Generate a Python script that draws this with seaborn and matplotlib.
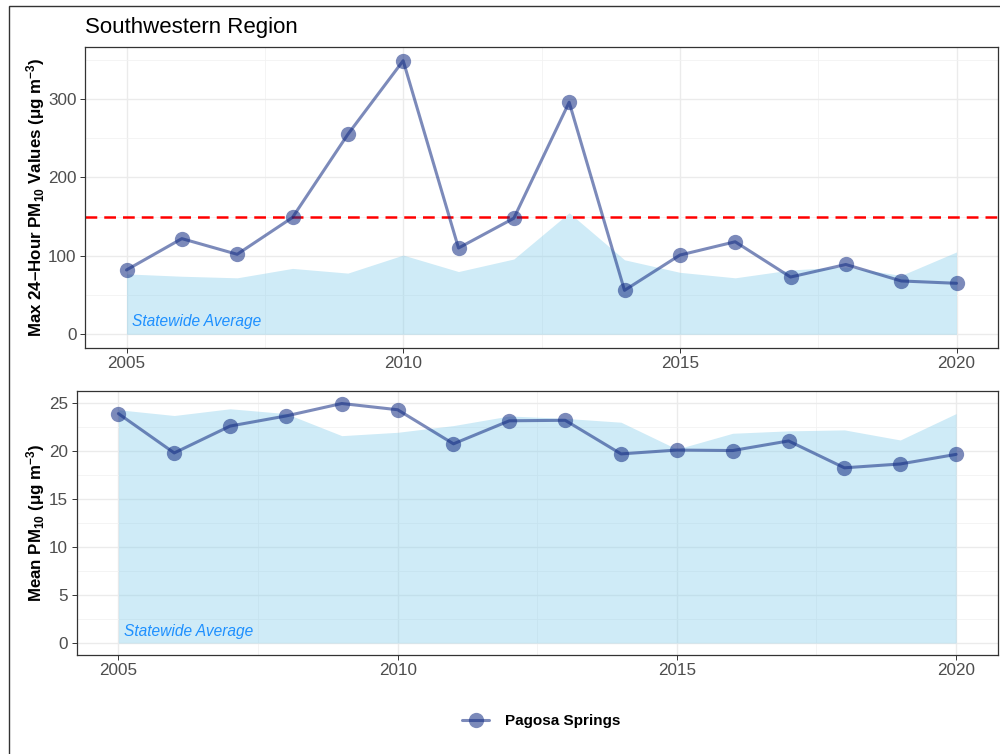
"""PM10 trend panels for the Southwestern Region (Pagosa Springs vs statewide average)."""

import matplotlib
matplotlib.use("Agg")

import matplotlib.pyplot as plt
import numpy as np
import pandas as pd
import seaborn as sns
from matplotlib.patches import Rectangle
from matplotlib.ticker import MultipleLocator

# data
years = list(range(2005, 2021))
max24_site = [82, 122, 102, 149, 255, 349, 110, 148, 296, 56, 101, 118, 73, 89, 68, 65]
max24_state = [77, 74, 72, 84, 78, 101, 80, 96, 155, 95, 79, 72, 82, 86, 75, 105]
mean_site = [23.9, 19.8, 22.6, 23.65, 24.95, 24.3, 20.75, 23.15, 23.2, 19.7, 20.1, 20.05, 21.05, 18.25, 18.65, 19.65]
mean_state = [24.3, 23.7, 24.4, 23.9, 21.6, 21.95, 22.65, 23.65, 23.4, 23.0, 20.2, 21.85, 22.1, 22.2, 21.15, 23.9]
standard = 150
site_name = "Pagosa Springs"
region_title = "Southwestern Region"

sns.set_theme(style="white")
plt.rcParams["font.family"] = ["Liberation Sans", "DejaVu Sans"]
plt.rcParams["mathtext.fontset"] = "custom"
plt.rcParams["mathtext.rm"] = "Liberation Sans"
plt.rcParams["mathtext.bf"] = "Liberation Sans:bold"
plt.rcParams["mathtext.it"] = "Liberation Sans:italic"
plt.rcParams["text.color"] = "black"

df = pd.DataFrame({"year": years, "max24": max24_site, "mean": mean_site})

LINE_COLOR = "#112B82"
AREA_COLOR = "skyblue"
TICK_COLOR = "#4D4D4D"

fig = plt.figure(figsize=(10, 7.54), dpi=100)
ax1 = fig.add_axes([0.085, 0.5385, 0.913, 0.3992])
ax2 = fig.add_axes([0.0765, 0.1313, 0.9215, 0.3501])


def style_axis(ax, ymaj, ymin_step):
    ax.set_axisbelow(True)
    ax.xaxis.set_major_locator(MultipleLocator(5))
    ax.xaxis.set_minor_locator(MultipleLocator(2.5))
    ax.yaxis.set_major_locator(MultipleLocator(ymaj))
    ax.yaxis.set_minor_locator(MultipleLocator(ymin_step))
    ax.grid(True, which="major", color="#EBEBEB", linewidth=1.0)
    ax.grid(True, which="minor", color="#F2F2F2", linewidth=0.6)
    ax.tick_params(axis="both", which="major", length=3.5, width=0.7,
                   color="#333333", labelcolor=TICK_COLOR, labelsize=12.3, pad=2.5,
                   bottom=True, left=True)
    ax.tick_params(axis="both", which="minor", length=0)
    for sp in ax.spines.values():
        sp.set_color("#333333")
        sp.set_linewidth(0.9)
    ax.set_xlim(2005 - 0.75, 2020 + 0.75)
    ax.set_xlabel("")


# top panel: max 24-hour values
ax1.fill_between(years, 0, max24_state, color=AREA_COLOR, alpha=0.4, linewidth=0)
ax1.axhline(standard, color="red", linestyle=(0, (4.7, 2.8)), linewidth=1.8)
sns.lineplot(data=df, x="year", y="max24", ax=ax1, color=LINE_COLOR, alpha=0.55,
             linewidth=2.2, marker="o", markersize=11, markeredgewidth=0,
             label=site_name)
style_axis(ax1, 100, 50)
ax1.set_ylim(-17.5, 366.5)
ax1.text(2005.1, 16, "Statewide Average", color="#1E90FF", style="italic",
         fontsize=11.2, ha="left", va="center")
ax1.set_ylabel("Max 24–Hour PM$_{\\mathbf{10}}$ Values (μg m$^{\\mathbf{-3}}$)",
               fontsize=12.2, fontweight="bold", color="black")
ax1.yaxis.set_label_coords(-0.0416, 0.5)
ax1.set_title(region_title, loc="left", fontsize=16, pad=10, color="black")

# bottom panel: annual means
ax2.fill_between(years, 0, mean_state, color=AREA_COLOR, alpha=0.4, linewidth=0)
sns.lineplot(data=df, x="year", y="mean", ax=ax2, color=LINE_COLOR, alpha=0.55,
             linewidth=2.2, marker="o", markersize=11, markeredgewidth=0,
             label=site_name)
style_axis(ax2, 5, 2.5)
ax2.set_ylim(-1.25, 26.25)
ax2.text(2005.1, 1.2, "Statewide Average", color="#1E90FF", style="italic",
         fontsize=11.2, ha="left", va="center")
ax2.set_ylabel("Mean PM$_{\\mathbf{10}}$ (μg m$^{\\mathbf{-3}}$)",
               fontsize=12.2, fontweight="bold", color="black")
ax2.yaxis.set_label_coords(-0.032, 0.5)

# shared legend at the bottom
handles, labels = ax1.get_legend_handles_labels()
ax1.get_legend().remove()
ax2.get_legend().remove()
leg = fig.legend(handles, labels, loc="center", bbox_to_anchor=(0.541, 0.0438),
                 frameon=False, prop={"weight": "bold", "size": 11},
                 handlelength=1.8, handletextpad=1.0)
for t in leg.get_texts():
    t.set_color("black")

# outer frame
fig.add_artist(Rectangle((0.0093, -0.2), 1.5, 1.2 - 5.7 / 754,
                         transform=fig.transFigure, fill=False,
                         edgecolor="#333333", linewidth=1.0))

fig.savefig("out.png", dpi=100)
plt.close(fig)
